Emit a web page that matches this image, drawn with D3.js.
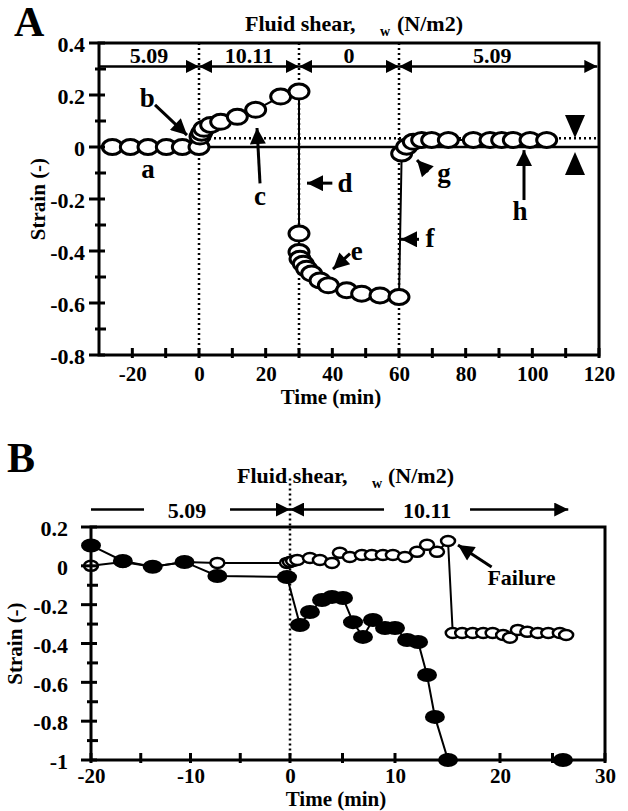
<!DOCTYPE html>
<html>
<head>
<meta charset="utf-8">
<script src="https://cdn.jsdelivr.net/npm/d3@7"></script>
<style>
  body { margin: 0; background: #fff; }
  svg text { font-family: "Liberation Serif", "Times New Roman", serif; font-weight: bold; fill: #000; }
</style>
</head>
<body>
<div id="chart"></div>
<script>
// ---- panel A : strain vs time, one specimen ----
const timeA = [-26, -20.6, -15.3, -9.8, -5, 0,
  0.3, 0.8, 1.5, 3.5, 6.5, 11.5, 17, 24.5, 30,
  30, 30, 30.3, 31.3, 32.3, 33.8, 36.3, 38.8, 44.3, 48.8, 54.3, 60,
  60.8, 62.3, 64.3, 66.8, 69.8, 74.8, 82.3, 87.3, 90.8, 94.3, 99.3, 104.3];
const strainA = [0, 0, 0, 0, 0, 0,
  0.04, 0.055, 0.07, 0.085, 0.097, 0.116, 0.143, 0.194, 0.213,
  -0.333, -0.404, -0.43, -0.449, -0.468, -0.487, -0.513, -0.532, -0.551, -0.564, -0.571, -0.577,
  -0.025, 0.001, 0.02, 0.027, 0.027, 0.027, 0.027, 0.027, 0.027, 0.027, 0.027, 0.027];

// shear periods in A
const shearStartA = [-30, 0, 30, 60];
const shearEndA = [0, 30, 60, 119.5];
const shearLabelA = ['5.09', '10.11', '0', '5.09'];
const shearLabelPosA = [-15, 15, 45, 88];
const phaseLinesA = [0, 30, 60];
const refLevelA = 0.034;

// ---- panel B : two specimens ----
const timeBOpen = [-20, -16.8, -13.8, -10.6, -7.3, -0.3, 0, 0.3, 0.7, 1.9, 2.85, 4.0, 4.75, 5.7, 6.85,
  7.8, 8.85, 9.8, 10.95, 12.1, 13.05, 14.0, 15.05,
  15.5, 16.4, 17.4, 18.4, 19.3, 20.3, 20.95, 21.7, 22.6, 23.6, 24.6, 25.7, 26.3];
const strainBOpen = [0, 0.02, -0.005, 0.02, 0.015, 0.015, 0.02, 0.025, 0.03, 0.04, 0.03, 0.015, 0.067, 0.046, 0.056,
  0.056, 0.056, 0.056, 0.046, 0.072, 0.108, 0.072, 0.128,
  -0.346, -0.346, -0.346, -0.346, -0.346, -0.356, -0.37, -0.33, -0.34, -0.346, -0.346, -0.346, -0.356];
const timeBFilled = [-20, -16.8, -13.8, -10.6, -7.3, -0.3, 0.95, 1.9, 3.05, 4.0, 5.05, 6.0, 6.95,
  7.9, 9.05, 10.0, 11.15, 12.2, 13.05, 13.8, 15.05, 26.0];
const strainBFilled = [0.105, 0.025, -0.005, 0.02, -0.052, -0.058, -0.305, -0.238, -0.176, -0.16, -0.166, -0.29, -0.366,
  -0.279, -0.32, -0.32, -0.382, -0.392, -0.562, -0.778, -1.0, -1.0];

const shearStartB = [-20, 0];
const shearEndB = [0, 26.5];
const shearLabelB = ['5.09', '10.11'];
const shearLabelPosB = [-10.35, 13.05];

// tick labels
const xTicksA = [-20, 0, 20, 40, 60, 80, 100, 120];
const xMinorA = [-10, 10, 30, 50, 70, 90, 110];
const yTicksA = [-0.8, -0.6, -0.4, -0.2, 0, 0.2, 0.4];
const yMinorA = [-0.7, -0.5, -0.3, -0.1, 0.1, 0.3];
const xTicksB = [-20, -10, 0, 10, 20, 30];
const xMinorB = [-15, -5, 5, 15, 25];
const yTicksB = [-1, -0.8, -0.6, -0.4, -0.2, 0, 0.2];
const yMinorB = [-0.9, -0.7, -0.5, -0.3, -0.1, 0.1];

const svg = d3.select('#chart').append('svg')
  .attr('width', 628)
  .attr('height', 811);

// arrow heads
const defs = svg.append('defs');
function marker(id, len, wid) {
  defs.append('marker')
    .attr('id', id)
    .attr('viewBox', '0 0 10 10')
    .attr('refX', 10).attr('refY', 5)
    .attr('markerUnits', 'userSpaceOnUse')
    .attr('markerWidth', len).attr('markerHeight', wid)
    .attr('orient', 'auto-start-reverse')
    .append('path').attr('d', 'M0,0L10,5L0,10Z').attr('fill', '#000');
}
marker('headA', 13, 13);
marker('headB', 18, 14);
marker('point', 18, 16);

const fmtY = d => d === 0 ? '0' : String(+d.toFixed(1));

function drawAxes(g, x, y, o) {
  const xd = x.domain(), yd = y.domain();
  const left = x(xd[0]), right = x(xd[xd.length - 1]);
  const bottom = y(yd[0]), top = y(yd[yd.length - 1]);

  // tick marks
  g.selectAll('.xmaj').data(o.xTicks.concat(o.xMinor)).enter().append('line')
    .attr('x1', d => x(d)).attr('x2', d => x(d))
    .attr('y1', bottom - 7).attr('y2', bottom + 3)
    .attr('stroke', '#000').attr('stroke-width', 3);
  g.selectAll('.ymaj').data(o.yTicks).enter().append('line')
    .attr('x1', left - 10).attr('x2', left + 6)
    .attr('y1', d => y(d)).attr('y2', d => y(d))
    .attr('stroke', '#000').attr('stroke-width', 3);
  g.selectAll('.ymin').data(o.yMinor).enter().append('line')
    .attr('x1', left - 4).attr('x2', left + 7)
    .attr('y1', d => y(d)).attr('y2', d => y(d))
    .attr('stroke', '#000').attr('stroke-width', 3);

  // frame
  g.append('rect')
    .attr('x', left).attr('y', top)
    .attr('width', right - left).attr('height', bottom - top)
    .attr('fill', 'none').attr('stroke', '#000').attr('stroke-width', 3);

  // labels
  g.append('g')
    .attr('transform', `translate(0,${bottom})`)
    .call(d3.axisBottom(x).tickValues(o.xTicks).tickSize(0).tickPadding(o.xPad).tickFormat(d => String(d)))
    .call(a => a.select('.domain').remove())
    .attr('font-family', null).attr('font-size', null)
    .selectAll('text').style('font-size', '21px');
  g.append('g')
    .attr('transform', `translate(${left},0)`)
    .call(d3.axisLeft(y).tickValues(o.yTicks).tickSize(0).tickPadding(o.yPad).tickFormat(fmtY))
    .call(a => a.select('.domain').remove())
    .attr('font-family', null).attr('font-size', null)
    .selectAll('text').style('font-size', '22px').attr('dy', '0.4em');

  g.append('text')
    .attr('x', (left + right) / 2 + o.xTitleShift)
    .attr('y', o.xTitleY)
    .attr('text-anchor', 'middle')
    .style('font-size', '21px')
    .text('Time (min)');
  g.append('text')
    .attr('transform', `translate(${o.yTitleX},${(top + bottom) / 2}) rotate(-90)`)
    .attr('text-anchor', 'middle')
    .style('font-size', '21px')
    .text('Strain (-)');
}

function title(g, x0, base, wx, nx) {
  g.append('text').attr('x', x0).attr('y', base).style('font-size', '22px').text('Fluid shear,');
  g.append('text').attr('x', wx).attr('y', base + 5).style('font-size', '14px').text('w');
  g.append('text').attr('x', nx).attr('y', base).style('font-size', '22px').text('(N/m2)');
}

// ================= Panel A =================
const xA = d3.scaleLinear().domain([-30, 120]).range([99, 599]);
const yA = d3.scaleLinear().domain([-0.8, 0.4]).range([355, 43]);
const gA = svg.append('g');

gA.append('text').attr('x', 14).attr('y', 36).style('font-size', '42px').text('A');
title(gA, 245, 31, 380, 397);

// dotted phase boundaries
gA.selectAll('.phase').data(phaseLinesA).enter().append('line')
  .attr('x1', d => xA(d)).attr('x2', d => xA(d))
  .attr('y1', yA(0.4)).attr('y2', yA(-0.8))
  .attr('stroke', '#000').attr('stroke-width', 2.5).attr('stroke-dasharray', '2,3');
// zero line
gA.append('line')
  .attr('x1', xA(-30)).attr('x2', xA(120)).attr('y1', yA(0)).attr('y2', yA(0))
  .attr('stroke', '#000').attr('stroke-width', 2.5);
// reference level
gA.append('line')
  .attr('x1', xA(0)).attr('x2', xA(120)).attr('y1', yA(refLevelA)).attr('y2', yA(refLevelA))
  .attr('stroke', '#000').attr('stroke-width', 2.5).attr('stroke-dasharray', '2,3');

const ptsA = timeA.map((t, i) => [t, strainA[i]]);
gA.append('path')
  .datum(ptsA)
  .attr('d', d3.line().x(d => xA(d[0])).y(d => yA(d[1])))
  .attr('fill', 'none').attr('stroke', '#000').attr('stroke-width', 2);
gA.selectAll('.ptA').data(ptsA).enter().append('ellipse')
  .attr('cx', d => xA(d[0])).attr('cy', d => yA(d[1]))
  .attr('rx', 10).attr('ry', 7.5)
  .attr('fill', '#fff').attr('stroke', '#000').attr('stroke-width', 3);

drawAxes(gA, xA, yA, {
  xTicks: xTicksA, xMinor: xMinorA, yTicks: yTicksA, yMinor: yMinorA,
  xPad: 11, yPad: 14, xTitleY: 404, xTitleShift: -18, yTitleX: 45
});

// shear arrows
const yArrA = 0.31;
shearStartA.forEach((s, i) => {
  gA.append('line')
    .attr('x1', xA(s)).attr('x2', xA(shearEndA[i]))
    .attr('y1', yA(yArrA)).attr('y2', yA(yArrA))
    .attr('stroke', '#000').attr('stroke-width', 2.5)
    .attr('marker-end', 'url(#headA)')
    .attr('marker-start', i === 0 ? null : 'url(#headA)');
  gA.append('text')
    .attr('x', xA(shearLabelPosA[i])).attr('y', yA(yArrA) - 3)
    .attr('text-anchor', 'middle').style('font-size', '22px')
    .text(shearLabelA[i]);
});

// letters and pointer arrows
const lettersA = [
  { t: 'a', x: -15.3, y: -0.12 }, { t: 'b', x: -15.5, y: 0.154 },
  { t: 'c', x: 18.3, y: -0.224 }, { t: 'd', x: 43.8, y: -0.174 },
  { t: 'e', x: 47.3, y: -0.436 }, { t: 'f', x: 69.3, y: -0.386 },
  { t: 'g', x: 73.5, y: -0.135 }, { t: 'h', x: 96.3, y: -0.28 }
];
const pointersA = [
  [-13.2, 0.162, -3.6, 0.046], [18.3, -0.14, 17.4, 0.073], [40, -0.139, 32.4, -0.139],
  [45.3, -0.41, 40.2, -0.47], [66, -0.355, 60.6, -0.355], [68.7, -0.096, 65.4, -0.05],
  [97.5, -0.204, 97.5, -0.012]
];
gA.selectAll('.lab').data(lettersA).enter().append('text')
  .attr('x', d => xA(d.x)).attr('y', d => yA(d.y))
  .attr('text-anchor', 'middle').style('font-size', '27px')
  .text(d => d.t);
gA.selectAll('.ptr').data(pointersA).enter().append('line')
  .attr('x1', d => xA(d[0])).attr('y1', d => yA(d[1]))
  .attr('x2', d => xA(d[2])).attr('y2', d => yA(d[3]))
  .attr('stroke', '#000').attr('stroke-width', 3)
  .attr('marker-end', 'url(#point)');

// level marks at the right
const triA = [
  [[109.8, 0.123], [115.8, 0.123], [112.8, 0.035]],
  [[109.8, -0.108], [115.8, -0.108], [112.8, -0.019]]
];
gA.selectAll('.tri').data(triA).enter().append('path')
  .attr('d', d => 'M' + d.map(p => [xA(p[0]), yA(p[1])].join(',')).join('L') + 'Z')
  .attr('fill', '#000');

// ================= Panel B =================
const xB = d3.scaleLinear().domain([-20, 0, 30]).range([91, 290, 605]);
const yB = d3.scaleLinear().domain([-1, 0.2]).range([760, 527]);
const gB = svg.append('g');

gB.append('text').attr('x', 7).attr('y', 472).style('font-size', '42px').text('B');
title(gB, 237, 483, 372, 388);

gB.append('line')
  .attr('x1', xB(0)).attr('x2', xB(0))
  .attr('y1', yB(0.45)).attr('y2', yB(-1))
  .attr('stroke', '#000').attr('stroke-width', 2.5).attr('stroke-dasharray', '2,3');

const ptsBO = timeBOpen.map((t, i) => [t, strainBOpen[i]]);
const ptsBF = timeBFilled.map((t, i) => [t, strainBFilled[i]]);
const lineB = d3.line().x(d => xB(d[0])).y(d => yB(d[1]));
gB.append('path').datum(ptsBO).attr('d', lineB)
  .attr('fill', 'none').attr('stroke', '#000').attr('stroke-width', 2);
gB.append('path').datum(ptsBF).attr('d', lineB)
  .attr('fill', 'none').attr('stroke', '#000').attr('stroke-width', 2);
gB.selectAll('.po').data(ptsBO).enter().append('ellipse')
  .attr('cx', d => xB(d[0])).attr('cy', d => yB(d[1]))
  .attr('rx', 7).attr('ry', 5)
  .attr('fill', '#fff').attr('stroke', '#000').attr('stroke-width', 2.5);
gB.selectAll('.pf').data(ptsBF).enter().append('ellipse')
  .attr('cx', d => xB(d[0])).attr('cy', d => yB(d[1]))
  .attr('rx', 10).attr('ry', 7)
  .attr('fill', '#000');

drawAxes(gB, xB, yB, {
  xTicks: xTicksB, xMinor: xMinorB, yTicks: yTicksB, yMinor: yMinorB,
  xPad: 8, yPad: 23, xTitleY: 806, xTitleShift: -12, yTitleX: 22
});

// shear arrows with a gap for the label
const yArrB = 0.29;
shearStartB.forEach((s, i) => {
  const c = xB(shearLabelPosB[i]);
  gB.append('line')
    .attr('x1', xB(s)).attr('x2', c - 43)
    .attr('y1', yB(yArrB)).attr('y2', yB(yArrB))
    .attr('stroke', '#000').attr('stroke-width', 2.5)
    .attr('marker-start', i === 0 ? null : 'url(#headB)');
  gB.append('line')
    .attr('x1', c + 43).attr('x2', xB(shearEndB[i]))
    .attr('y1', yB(yArrB)).attr('y2', yB(yArrB))
    .attr('stroke', '#000').attr('stroke-width', 2.5)
    .attr('marker-end', 'url(#headB)');
  gB.append('text')
    .attr('x', c).attr('y', yB(yArrB) + 8)
    .attr('text-anchor', 'middle').style('font-size', '22px')
    .text(shearLabelB[i]);
});

gB.append('line')
  .attr('x1', xB(19.2)).attr('y1', yB(-0.006))
  .attr('x2', xB(16)).attr('y2', yB(0.107))
  .attr('stroke', '#000').attr('stroke-width', 3)
  .attr('marker-end', 'url(#point)');
gB.append('text')
  .attr('x', xB(18.8)).attr('y', yB(-0.099))
  .style('font-size', '22px')
  .text('Failure');
</script>
</body>
</html>
